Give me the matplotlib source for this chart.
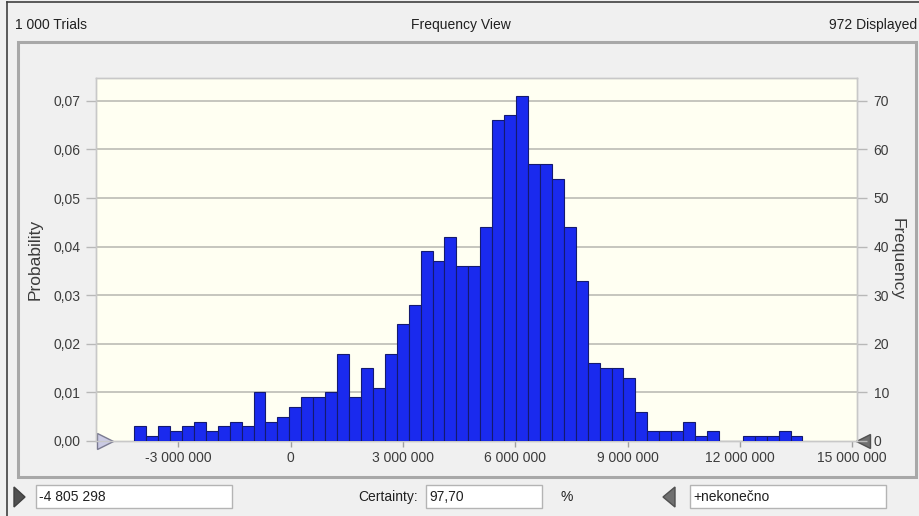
import matplotlib
matplotlib.use('Agg')
import matplotlib.pyplot as plt
import matplotlib.transforms as mtransforms
from matplotlib.patches import Rectangle, Polygon
from matplotlib.ticker import FixedLocator, FuncFormatter

# data (1000 trials, 972 displayed)
bin_start = -4180000
bin_width = 318800
counts = [3, 1, 3, 2, 3, 4, 2, 3, 4, 3,
          10, 4, 5, 7, 9, 9, 10, 18, 9,
          15, 11, 18, 24, 28, 39, 37, 42, 36, 36, 44,
          66, 67, 71, 57, 57, 54, 44, 33, 16, 15, 15,
          13, 6, 2, 2, 2, 4, 1, 2, 0, 0, 1, 1, 1, 2, 1]
trials = 1000
x_ticks = [-3000000, 0, 3000000, 6000000, 9000000, 12000000, 15000000]
prob_ticks = [0.00, 0.01, 0.02, 0.03, 0.04, 0.05, 0.06, 0.07]
freq_ticks = [0, 10, 20, 30, 40, 50, 60, 70]
left_limit = -4805298
certainty = 97.70

W, H = 920, 516
plt.rcParams['font.family'] = ['Liberation Sans', 'DejaVu Sans']
txt = '#3c3c3c'


def fx(px):
    return px / W


def fy(py):
    return 1 - py / H


def sep(v):
    return f"{v:,.0f}".replace(',', ' ')


fig = plt.figure(figsize=(W / 100, H / 100), dpi=100, facecolor='#f0f0f0')

# window frame
fig.add_artist(plt.Line2D([fx(7), fx(7)], [fy(2), fy(516)], color='#404040', lw=1.2, zorder=-5))
fig.add_artist(plt.Line2D([fx(7), fx(920)], [fy(2), fy(2)], color='#404040', lw=1.2, zorder=-5))
# chart panel
fig.add_artist(Rectangle((fx(18), fy(477)), fx(916) - fx(18), fy(42) - fy(477),
                         transform=fig.transFigure, facecolor='#f0f0f0',
                         edgecolor='#a8a8a8', lw=2.2, zorder=-5))

# header texts
fig.text(fx(15), fy(25), f"{sep(trials)} Trials", fontsize=10, color='#202020', va='center')
fig.text(fx(461), fy(25), "Frequency View", fontsize=10, color='#202020', va='center', ha='center')
fig.text(fx(917), fy(25), f"{sum(counts)} Displayed", fontsize=10, color='#202020',
         va='center', ha='right')

# axes: left = probability, right (twin) = frequency
top_px, bot_px, left_px, right_px = 78, 441, 96, 857
ymax = (bot_px - top_px) / 4.86
ax = fig.add_axes([fx(left_px), fy(bot_px), fx(right_px) - fx(left_px), fy(top_px) - fy(bot_px)])
ax.set_facecolor('#fffff2')
ax.set_xlim(-5200000, 15130000)
ax.set_ylim(0, ymax / trials)
ax2 = ax.twinx()
ax2.set_ylim(0, ymax)

edges = [bin_start + i * bin_width for i in range(len(counts))]
ax2.bar(edges, counts, width=bin_width, align='edge', color='#1a2aee',
        edgecolor='#141a70', linewidth=0.8, zorder=3)

for p in prob_ticks[1:]:
    ax.axhline(p, color='#c6c6be', lw=1.4, zorder=1)

ax.yaxis.set_major_locator(FixedLocator(prob_ticks))
ax.yaxis.set_major_formatter(FuncFormatter(lambda v, _: f"{v:.2f}".replace('.', ',')))
ax2.yaxis.set_major_locator(FixedLocator(freq_ticks))
ax.xaxis.set_major_locator(FixedLocator(x_ticks))
ax.xaxis.set_major_formatter(FuncFormatter(lambda v, _: sep(v)))

ax.tick_params(axis='y', length=7, width=1, color='#b8b8b8', labelsize=10, labelcolor=txt, pad=4)
ax2.tick_params(axis='y', length=7, width=1, color='#b8b8b8', labelsize=10, labelcolor=txt, pad=5)
ax.tick_params(axis='x', length=4, width=1, color='#a0a0a0', labelsize=10, labelcolor=txt, pad=3)

for a in (ax, ax2):
    for s in a.spines.values():
        s.set_color('#c8c8c8')
        s.set_linewidth(1)

ax.set_ylabel("Probability", fontsize=12.5, color=txt, labelpad=8)
ax2.set_ylabel("Frequency", fontsize=12.5, color=txt, rotation=-90, labelpad=11)

# limit markers
off_l = mtransforms.offset_copy(ax.transData, fig=fig, x=-6, y=0, units='dots')
ax.plot([left_limit], [0], marker='>', ms=11, mfc='#cacae4', mec='#7a7a90',
        mew=1, transform=off_l, clip_on=False, zorder=5)
off_r = mtransforms.offset_copy(ax.transAxes, fig=fig, x=6, y=0, units='dots')
ax.plot([1], [0], marker='<', ms=10, mfc='#707070', mec='#505050',
        mew=1, transform=off_r, clip_on=False, zorder=5)

# bottom controls
for x0, x1 in [(36, 232), (426, 542), (690, 886)]:
    fig.add_artist(Rectangle((fx(x0), fy(508)), fx(x1) - fx(x0), fy(485) - fy(508),
                             transform=fig.transFigure, facecolor='white',
                             edgecolor='#b4b4b4', lw=1))
fig.add_artist(Polygon([(fx(14), fy(487)), (fx(14), fy(507)), (fx(25), fy(497))],
                       closed=True, transform=fig.transFigure, facecolor='#505050',
                       edgecolor='#404040'))
fig.add_artist(Polygon([(fx(675), fy(487)), (fx(675), fy(507)), (fx(663), fy(497))],
                       closed=True, transform=fig.transFigure, facecolor='#707070',
                       edgecolor='#505050'))
fig.text(fx(39), fy(497), sep(left_limit), fontsize=10, color='#202020', va='center')
fig.text(fx(418), fy(497), "Certainty:", fontsize=10, color='#202020', va='center', ha='right')
fig.text(fx(429), fy(497), f"{certainty:.2f}".replace('.', ','), fontsize=10,
         color='#202020', va='center')
fig.text(fx(561), fy(497), "%", fontsize=10, color='#202020', va='center')
fig.text(fx(693), fy(497), "+nekonečno", fontsize=10, color='#202020', va='center')

fig.savefig('out.png', dpi=100, facecolor=fig.get_facecolor())
